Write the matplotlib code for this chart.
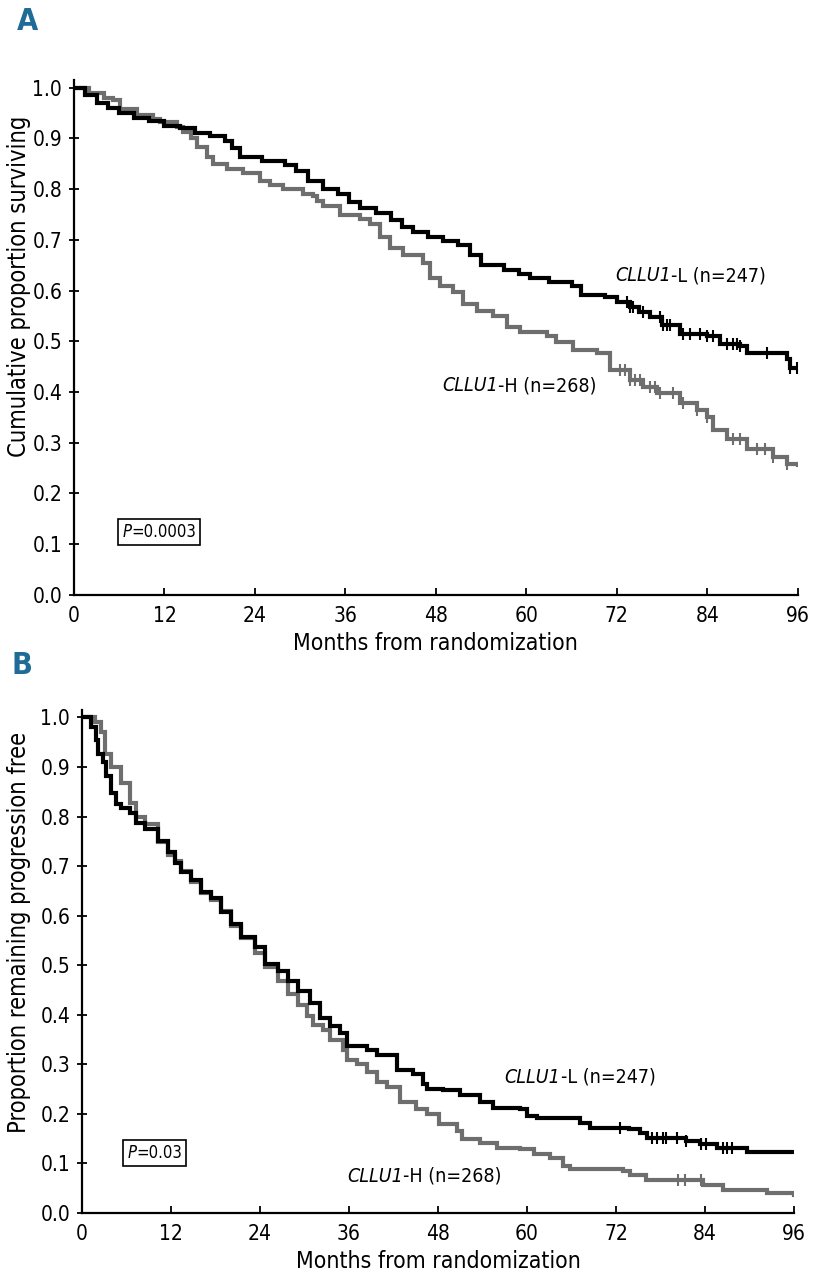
import numpy as np
import matplotlib
matplotlib.use("Agg")
import matplotlib.pyplot as plt
from matplotlib.offsetbox import TextArea, HPacker, AnnotationBbox

plt.rcParams["font.family"] = ["DejaVu Sans"]
plt.rcParams["font.stretch"] = "condensed"

# Panel A: overall survival (step points)
a_low_t = [0, 1.5, 3, 4.5, 6, 8, 10, 12, 14, 16, 18, 20, 21, 22, 25, 28, 29.5, 31, 33, 35,
           36.5, 38, 40, 42, 43.5, 45, 47, 49, 51, 52.5, 54, 57, 59, 60.5, 63, 66, 67.2,
           70.5, 72, 73.7, 75, 76.4, 78, 80.4, 84, 85.7, 88.3, 89.3, 94.6, 95, 96]
a_low_s = [1.0, 0.985, 0.97, 0.96, 0.95, 0.94, 0.935, 0.925, 0.92, 0.91, 0.905, 0.895, 0.88,
           0.864, 0.855, 0.848, 0.835, 0.815, 0.80, 0.79, 0.775, 0.763, 0.753, 0.74, 0.725,
           0.715, 0.705, 0.698, 0.689, 0.67, 0.65, 0.641, 0.632, 0.625, 0.616, 0.608, 0.592,
           0.588, 0.578, 0.567, 0.558, 0.548, 0.533, 0.515, 0.511, 0.495, 0.491, 0.476,
           0.466, 0.448, 0.448]
a_high_t = [0, 2, 4, 5.2, 6.1, 8.4, 10.5, 11.4, 13.7, 14.5, 15.5, 16.3, 17.6, 18.4, 20.3,
            22.4, 24.7, 26, 27.7, 30.4, 31.7, 32.2, 33, 35.3, 37.9, 39.3, 40.6, 41.9, 43.6,
            46.3, 47.2, 48.5, 50.3, 51.6, 53.4, 55.6, 57.4, 59.2, 62.7, 64, 66.2, 69.4, 71.1,
            73.7, 75.5, 77.3, 80.4, 82.6, 84, 84.7, 86.6, 89.3, 92.7, 94.6, 96]
a_high_s = [1.0, 0.99, 0.98, 0.975, 0.957, 0.946, 0.938, 0.932, 0.922, 0.913, 0.9, 0.883,
            0.864, 0.85, 0.84, 0.831, 0.815, 0.808, 0.80, 0.79, 0.786, 0.777, 0.767, 0.748,
            0.742, 0.732, 0.705, 0.683, 0.67, 0.654, 0.625, 0.608, 0.598, 0.573, 0.559, 0.55,
            0.528, 0.518, 0.511, 0.499, 0.482, 0.476, 0.443, 0.423, 0.41, 0.398, 0.379, 0.365,
            0.35, 0.326, 0.307, 0.287, 0.272, 0.258, 0.256]
a_low_cens = [73.3, 73.7, 74.1, 75.5, 77.7, 78.1, 78.6, 79, 80.8, 81.7, 83, 84, 84.7, 86.6,
              87.4, 87.9, 88.3, 91.9, 95, 95.9]
a_high_cens = [72.4, 73.1, 73.7, 74.4, 75.1, 76.4, 77.1, 77.7, 79.4, 80.8, 82.6, 84, 87.4,
               88.3, 90.6, 91.6, 92.7, 94.6]

# Panel B: progression-free survival
b_low_t = [0, 1.2, 1.9, 2.2, 2.8, 3.2, 3.9, 4.6, 5.3, 6.5, 7.3, 8.5, 10.2, 11.6, 12.5, 13.3,
           14.7, 16, 17.4, 18.7, 20.1, 21.4, 23.3, 24.7, 26.4, 27.8, 29.1, 30.7, 32.1, 33.4,
           34.8, 35.7, 38.4, 39.8, 42.5, 44.6, 46, 46.5, 48.7, 50.9, 53.6, 55.4, 59, 60,
           61.3, 67.1, 68.5, 73.8, 75.2, 76.2, 81.5, 83.3, 85.6, 89.6, 96]
b_low_s = [1.0, 0.98, 0.954, 0.926, 0.91, 0.881, 0.847, 0.825, 0.817, 0.807, 0.787, 0.775,
           0.751, 0.728, 0.706, 0.688, 0.672, 0.648, 0.636, 0.608, 0.583, 0.557, 0.537, 0.503,
           0.489, 0.469, 0.449, 0.423, 0.394, 0.378, 0.364, 0.338, 0.328, 0.318, 0.288, 0.28,
           0.26, 0.25, 0.248, 0.238, 0.225, 0.211, 0.209, 0.195, 0.191, 0.181, 0.171, 0.169,
           0.161, 0.151, 0.145, 0.139, 0.131, 0.123, 0.123]
b_high_t = [0, 1.7, 2.6, 3.1, 3.9, 5.3, 6.5, 7.3, 8.5, 10.2, 11.6, 12.5, 13.3, 14.7, 16, 17.4,
            18.7, 20.1, 21.4, 23.3, 24.7, 26.4, 27.8, 29.1, 30.4, 31.1, 32.5, 33.4, 35.2, 35.7,
            37.1, 38.4, 39.8, 41.1, 42.9, 45.1, 46.5, 48.2, 50.5, 51.3, 53.6, 55.9, 59, 61,
            63.1, 64.8, 65.8, 72.9, 73.9, 76.1, 83.7, 86.4, 92.3, 96]
b_high_s = [1.0, 0.99, 0.97, 0.926, 0.9, 0.867, 0.827, 0.80, 0.785, 0.748, 0.722, 0.71, 0.69,
            0.668, 0.645, 0.632, 0.61, 0.58, 0.555, 0.525, 0.497, 0.469, 0.443, 0.419, 0.398,
            0.38, 0.37, 0.35, 0.33, 0.308, 0.30, 0.284, 0.264, 0.254, 0.225, 0.209, 0.199,
            0.179, 0.165, 0.149, 0.141, 0.131, 0.129, 0.119, 0.111, 0.095, 0.089, 0.085,
            0.076, 0.066, 0.056, 0.046, 0.040, 0.036]
b_low_cens = [72.5, 76.8, 77.5, 78.3, 78.8, 80.2, 81.5, 83.5, 84.2, 86.4, 86.9, 87.6]
b_high_cens = [80.3, 81.3, 83.5]

x_ticks = [0, 12, 24, 36, 48, 60, 72, 84, 96]
y_ticks = [0.0, 0.1, 0.2, 0.3, 0.4, 0.5, 0.6, 0.7, 0.8, 0.9, 1.0]

BLACK = "#000000"
GRAY = "#6e6e6e"
BLUE = "#1f6c99"


def step_value(t, s, x):
    idx = np.searchsorted(t, x, side="right") - 1
    return np.asarray(s)[idx]


def draw_curve(ax, t, s, cens, color):
    ax.step(t, s, where="post", color=color, lw=3.0, solid_joinstyle="miter")
    if cens:
        ax.plot(cens, step_value(t, s, cens), ls="none", marker="|", ms=9, mew=1.5,
                color=color)


def mixed_label(ax, x, y, it_part, rest, size, box=False):
    parts = [TextArea(it_part, textprops=dict(fontsize=size, style="italic")),
             TextArea(rest, textprops=dict(fontsize=size))]
    pack = HPacker(children=parts, align="baseline", pad=0, sep=0)
    ab = AnnotationBbox(pack, (x, y), xycoords="data", frameon=box,
                        box_alignment=(0.5, 0.5) if box else (0.0, 0.5),
                        pad=0.35 if box else 0,
                        bboxprops=dict(boxstyle="square", fc="white", ec="black", lw=1.2))
    ax.add_artist(ab)


def style_axes(ax, ylabel, ylab_x, ylab_y):
    ax.set_xlim(0, 96)
    ax.set_ylim(0, 1.015)
    ax.set_xticks(x_ticks)
    ax.set_yticks(y_ticks)
    ax.set_yticklabels([f"{v:.1f}" for v in y_ticks])
    for side in ("top", "right"):
        ax.spines[side].set_visible(False)
    for side in ("left", "bottom"):
        ax.spines[side].set_linewidth(1.6)
    ax.tick_params(axis="x", direction="in", length=5, width=1.3, labelsize=15, pad=8)
    ax.tick_params(axis="y", direction="inout", length=7, width=1.3, labelsize=15, pad=5)
    ax.set_xlabel("Months from randomization", fontsize=16.5, labelpad=4)
    ax.set_ylabel(ylabel, fontsize=17)
    ax.yaxis.set_label_coords(ylab_x, ylab_y)


fig = plt.figure(figsize=(8.19, 12.8), dpi=100)

ax_a = fig.add_axes([0.0904, 0.5352, 0.8836, 0.4023])
draw_curve(ax_a, a_high_t, a_high_s, a_high_cens, GRAY)
draw_curve(ax_a, a_low_t, a_low_s, a_low_cens, BLACK)
style_axes(ax_a, "Cumulative proportion surviving", -0.059, 0.60)
mixed_label(ax_a, 71.8, 0.629, "CLLU1", "-L (n=247)", 14)
mixed_label(ax_a, 48.9, 0.412, "CLLU1", "-H (n=268)", 14)
mixed_label(ax_a, 11.3, 0.124, "P", "=0.0003", 12, box=True)

ax_b = fig.add_axes([0.1001, 0.0523, 0.8694, 0.3930])
draw_curve(ax_b, b_high_t, b_high_s, b_high_cens, GRAY)
draw_curve(ax_b, b_low_t, b_low_s, b_low_cens, BLACK)
style_axes(ax_b, "Proportion remaining progression free", -0.072, 0.557)
mixed_label(ax_b, 57.0, 0.274, "CLLU1", "-L (n=247)", 14)
mixed_label(ax_b, 35.8, 0.074, "CLLU1", "-H (n=268)", 14)
mixed_label(ax_b, 9.8, 0.121, "P", "=0.03", 12, box=True)

fig.text(0.033, 0.983, "A", fontsize=22, fontweight="bold", color=BLUE, va="center", ha="center")
fig.text(0.027, 0.480, "B", fontsize=22, fontweight="bold", color=BLUE, va="center", ha="center")

fig.savefig("out.png", dpi=100)
